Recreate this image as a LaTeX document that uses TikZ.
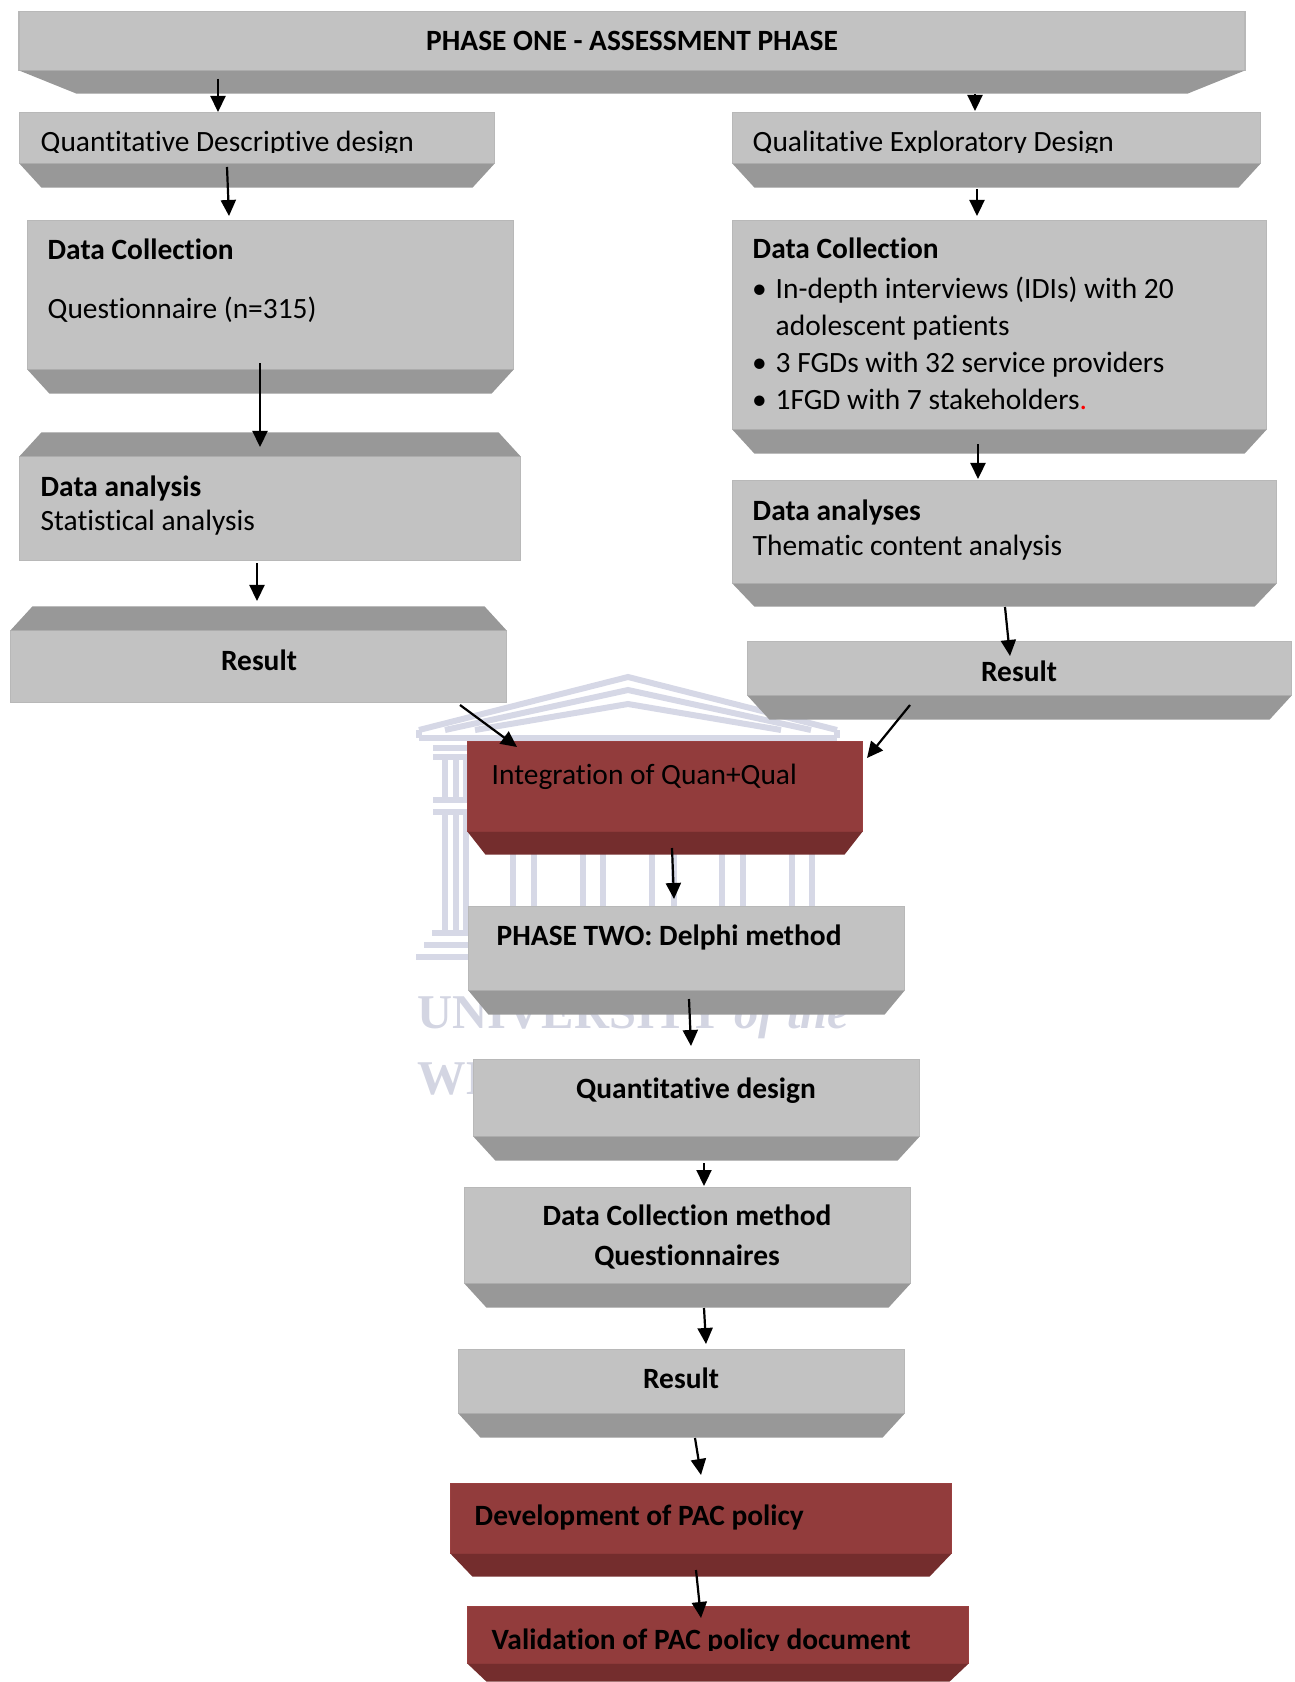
\documentclass[tikz,border=0pt]{standalone}
\usepackage{fontspec}
\setmainfont{Carlito}[Ligatures=NoCommon]
\newfontfamily\crestfont{Liberation Serif}
\usetikzlibrary{arrows.meta,calc}
\definecolor{greyface}{HTML}{C2C2C2}
\definecolor{greyside}{HTML}{989898}
\definecolor{greyedge}{HTML}{B8B8B8}
\definecolor{redface}{HTML}{923C3C}
\definecolor{redside}{HTML}{742D2D}
\definecolor{rededge}{HTML}{9A4040}
\definecolor{crestline}{HTML}{D6D8E6}
\definecolor{cresttext}{HTML}{D3D5E2}
\tikzset{
  greybox/.style={rectangle,fill=greyface,draw=greyedge,line width=0.15mm,inner sep=0pt,outer sep=0pt},
  redbox/.style={rectangle,fill=redface,draw=rededge,line width=0.15mm,inner sep=0pt,outer sep=0pt},
  boxtext/.style={anchor=west,inner sep=0pt,align=left,font=\fontsize{8.37}{10.5}\selectfont},
  headtext/.style={boxtext,font=\fontsize{8.37}{10.5}\selectfont\bfseries},
  midtext/.style={headtext,anchor=center,align=center},
  flow/.style={line width=0.22mm,-{Triangle[length=1.6mm,width=1.5mm]}},
  crest/.style={draw=crestline,line width=0.6mm},
  cresttitle/.style={anchor=base west,inner sep=0pt,text=cresttext,font=\fontsize{13.8}{15}\crestfont\bfseries}
}
\begin{document}
\begin{tikzpicture}[x=0.01cm,y=-0.01cm]
\useasboundingbox (0,0) rectangle (1294,1682);
% crest behind the boxes
\draw[crest] (419,730)--(628,677)--(837,730);
\draw[crest] (445,730)--(628,690)--(811,730);
\draw[crest] (475,730)--(628,704)--(781,730);
\draw[crest] (419,738)--(837,738);
\draw[crest] (419,730)--(419,738) (837,730)--(837,738);
\draw[crest] (433,748)--(470,748) (433,757)--(470,757);
\draw[crest] (433,800)--(470,800) (433,812)--(470,812);
\foreach \x in {445,456,466} {
  \draw[crest] (\x,757)--(\x,800) (\x,812)--(\x,933);
}
\foreach \x in {513,534,583,603,652,674,722,743,792,812} {
  \draw[crest] (\x,850)--(\x,910);
}
\draw[crest] (432,933)--(470,933) (424,945)--(470,945) (416,957)--(470,957);
\node[cresttitle] (crestone) at (417,1028) {UNIVERSITY {\itshape of the}};
\node[cresttitle] (cresttwo) at (417,1094) {WE};
% boxes
\node[greybox,minimum width=122.5mm,minimum height=5.9mm] (phaseone) at (632,41) {};
\node[greybox,minimum width=47.5mm,minimum height=5.1mm] (quantdesign) at (257,138) {};
\node[greybox,minimum width=52.8mm,minimum height=5.1mm] (qualdesign) at (996.5,138) {};
\node[greybox,minimum width=48.6mm,minimum height=14.9mm] (quantdata) at (270.5,295) {};
\node[greybox,minimum width=53.4mm,minimum height=20.9mm] (qualdata) at (999.5,325) {};
\node[greybox,minimum width=50.1mm,minimum height=10.4mm] (quantanalysis) at (270,508.5) {};
\node[greybox,minimum width=54.4mm,minimum height=10.3mm] (qualanalysis) at (1004.5,532) {};
\node[greybox,minimum width=49.6mm,minimum height=7.2mm] (quantresult) at (258.5,666.5) {};
\node[greybox,minimum width=54.4mm,minimum height=5.4mm] (qualresult) at (1019.5,668.5) {};
\node[redbox,minimum width=39.5mm,minimum height=9mm] (integration) at (665,786.5) {};
\node[greybox,minimum width=43.6mm,minimum height=8.4mm] (phasetwo) at (686.5,948.5) {};
\node[greybox,minimum width=44.6mm,minimum height=7.7mm] (delphidesign) at (696.5,1098) {};
\node[greybox,minimum width=44.6mm,minimum height=9.6mm] (delphidata) at (687.5,1235.5) {};
\node[greybox,minimum width=44.6mm,minimum height=6.4mm] (delphiresult) at (681.5,1381.5) {};
\node[redbox,minimum width=50.1mm,minimum height=7mm] (development) at (701,1518.5) {};
\node[redbox,minimum width=50.1mm,minimum height=5.7mm] (validation) at (718,1635) {};
% bevels
\foreach \b/\i/\d in {phaseone/57/23,quantdesign/22/24,qualdesign/22/24,quantdata/22/24,qualdata/22/24,qualanalysis/22/23,qualresult/22/24,phasetwo/20/24,delphidesign/22/24,delphidata/22/24,delphiresult/22/24} {
  \fill[greyside] (\b.south west)--(\b.south east)--++(-\i,\d)--($(\b.south west)+(\i,\d)$)--cycle;
}
\foreach \b/\i/\d in {quantanalysis/22/24,quantresult/22/24} {
  \fill[greyside] (\b.north west)--(\b.north east)--++(-\i,-\d)--($(\b.north west)+(\i,-\d)$)--cycle;
}
\foreach \b/\i/\d in {integration/18/23,development/22/23,validation/19/18} {
  \fill[redside] (\b.south west)--(\b.south east)--++(-\i,\d)--($(\b.south west)+(\i,\d)$)--cycle;
}
% texts
\node[midtext] (phaseonetext) at (632,41) {PHASE ONE - ASSESSMENT PHASE};
\begin{scope}
\clip (19,112) rectangle (1261,153);
\node[boxtext] (quantdesigntext) at (40,144) {Quantitative Descriptive design};
\node[boxtext] (qualdesigntext) at (752,144) {Qualitative Exploratory Design};
\end{scope}
\node[headtext] (quantdatahead) at (47,249) {Data Collection};
\node[boxtext] (quantdatatext) at (47,310) {Questionnaire (n=315)};
\node[boxtext,anchor=north west] (qualdatatext) at (752,237.5) {\textbf{Data Collection}\\[0.3mm]
\makebox[1.4mm][r]{\textbullet}\hspace{0.9mm}In-depth interviews (IDIs) with 20\\
\hspace{2.3mm}adolescent patients\\
\makebox[1.4mm][r]{\textbullet}\hspace{0.9mm}3 FGDs with 32 service providers\\
\makebox[1.4mm][r]{\textbullet}\hspace{0.9mm}1FGD with 7 stakeholders{\color{red}.}};
\node[headtext] (quantanalysishead) at (40,488) {Data analysis};
\node[boxtext] (quantanalysistext) at (40,523) {Statistical analysis};
\node[headtext] (qualanalysishead) at (752,512) {Data analyses};
\node[boxtext] (qualanalysistext) at (752,548) {Thematic content analysis};
\node[midtext] (quantresulttext) at (259,660) {Result};
\node[midtext] (qualresulttext) at (1019,671) {Result};
\node[boxtext] (integrationtext) at (491,777) {Integration of Quan+Qual};
\node[headtext] (phasetwotext) at (496,937) {PHASE TWO: Delphi method};
\node[midtext] (delphidesigntext) at (696,1091) {Quantitative design};
\node[midtext] (delphidatatext) at (687,1237) {Data Collection method\\[0.3mm]Questionnaires};
\node[midtext] (delphiresulttext) at (681,1378) {Result};
\node[headtext] (developmenttext) at (474,1517) {Development of PAC policy};
\begin{scope}
\clip (467,1606) rectangle (969,1650);
\node[headtext] (validationtext) at (491,1641) {Validation of PAC policy document};
\end{scope}
% connectors
\coordinate (phaseoneleft) at (218,79);
\coordinate (quantdesignin) at (218,112);
\coordinate (phaseoneright) at (975,94);
\coordinate (qualdesignin) at (975,111);
\coordinate (quantdesignout) at (227,167);
\coordinate (quantdatain) at (229,216);
\coordinate (qualdesignout) at (977,189);
\coordinate (qualdatain) at (977,216);
\coordinate (quantdataout) at (260,363);
\coordinate (quantanalysisin) at (260,447);
\coordinate (qualdataout) at (978,444);
\coordinate (qualanalysisin) at (978,479);
\coordinate (quantanalysisout) at (257,563);
\coordinate (quantresultin) at (257,601);
\coordinate (qualanalysisout) at (1005,607);
\coordinate (qualresultin) at (1010,656);
\coordinate (quantresultout) at (460,705);
\coordinate (integrationleft) at (517,747);
\coordinate (qualresultout) at (910,705);
\coordinate (integrationright) at (867,758);
\coordinate (integrationout) at (672,848);
\coordinate (phasetwoin) at (674,899);
\coordinate (phasetwoout) at (689,999);
\coordinate (delphidesignin) at (691,1046);
\coordinate (delphidesignout) at (704,1163);
\coordinate (delphidatain) at (704,1186);
\coordinate (delphidataout) at (704,1308);
\coordinate (delphiresultin) at (706,1344);
\coordinate (delphiresultout) at (695,1438);
\coordinate (developmentin) at (701,1475);
\coordinate (developmentout) at (696,1570);
\coordinate (validationin) at (701,1618);
\draw[flow] (phaseoneleft)--(quantdesignin);
\draw[flow] (phaseoneright)--(qualdesignin);
\draw[flow] (quantdesignout)--(quantdatain);
\draw[flow] (qualdesignout)--(qualdatain);
\draw[flow] (quantdataout)--(quantanalysisin);
\draw[flow] (qualdataout)--(qualanalysisin);
\draw[flow] (quantanalysisout)--(quantresultin);
\draw[flow] (qualanalysisout)--(qualresultin);
\draw[flow] (quantresultout)--(integrationleft);
\draw[flow] (qualresultout)--(integrationright);
\draw[flow] (integrationout)--(phasetwoin);
\draw[flow] (phasetwoout)--(delphidesignin);
\draw[flow] (delphidesignout)--(delphidatain);
\draw[flow] (delphidataout)--(delphiresultin);
\draw[flow] (delphiresultout)--(developmentin);
\draw[flow] (developmentout)--(validationin);
\end{tikzpicture}
\end{document}
